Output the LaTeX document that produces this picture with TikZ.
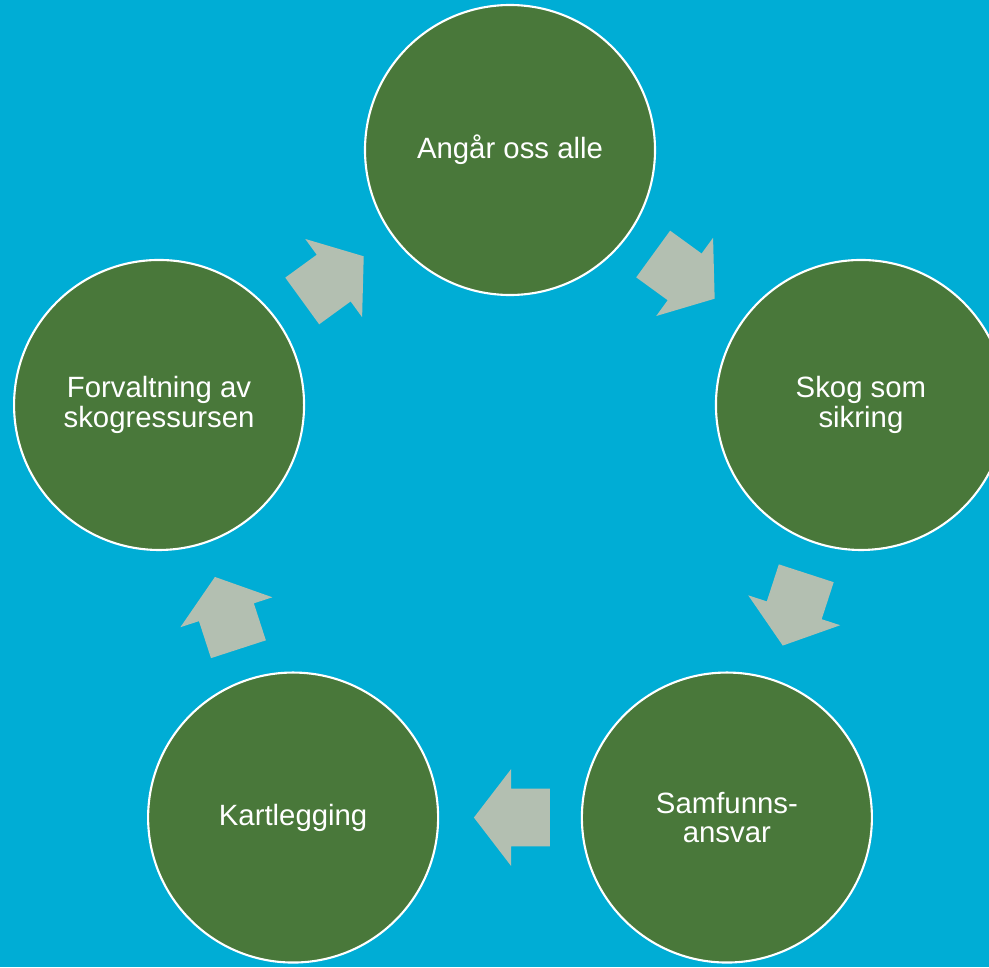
\documentclass[tikz,border=0pt]{standalone}
\usepackage{fontspec}
\setmainfont{Liberation Sans}
\usepackage{xcolor}
\usepackage{tikz}
\usetikzlibrary{
    positioning,
    calc,
    shapes.arrows,
    backgrounds
}
\definecolor{skyblue}{RGB}{0,173,213}
\definecolor{forestgreen}{RGB}{73,120,58}
\definecolor{arrowgrey}{RGB}{179,191,177}
\tikzset{
    stage/.style={
        circle, draw=white, line width=1.2pt, fill=forestgreen,
        minimum size=5.8cm, inner sep=0pt, align=center,
        text=white, font=\fontsize{16.7}{16.6}\selectfont
    },
    cyclearrow/.style={
        single arrow, draw=none, fill=arrowgrey,
        minimum height=1.52cm,
        single arrow head extend=0.39cm, single arrow tip angle=105,
        inner xsep=0pt, inner ysep=0.57cm
    }
}

\begin{document}
\begin{tikzpicture}[x=1cm, y=1cm]
	
	% BACKGROUND
	\useasboundingbox (0,0) rectangle (19.78,-19.34);
	\clip (0,0) rectangle (19.78,-19.34);
	\fill[skyblue] (0,0) rectangle (19.78,-19.34);
	
	% NODES
	\coordinate (hub) at (10.2,-10.38);
	\node (angar) [stage] at ($(hub)+(90:7.38)$) {Angår oss alle};
	\node (sikring) [stage] at ($(hub)+(18:7.38)$) {Skog som\\sikring};
	\node (ansvar) [stage] at ($(hub)+(-54:7.38)$) {Samfunns-\\ansvar};
	\node (kart) [stage] at ($(hub)+(-126:7.38)$) {Kartlegging};
	\node (forvalt) [stage] at ($(hub)+(162:7.38)$) {Forvaltning av\\skogressursen};
	
	% ARROWS
	\node (a1) [cyclearrow, rotate=-36] at ($(angar)!0.5!(sikring)!0.26cm!(angar)$) {};
	\node (a2) [cyclearrow, rotate=-108] at ($(sikring)!0.5!(ansvar)!0.26cm!(sikring)$) {};
	\node (a3) [cyclearrow, rotate=180] at ($(ansvar)!0.5!(kart)!0.26cm!(ansvar)$) {};
	\node (a4) [cyclearrow, rotate=108] at ($(kart)!0.5!(forvalt)!0.26cm!(kart)$) {};
	\node (a5) [cyclearrow, rotate=36] at ($(forvalt)!0.5!(angar)!0.26cm!(forvalt)$) {};
	
\end{tikzpicture}
\end{document}
